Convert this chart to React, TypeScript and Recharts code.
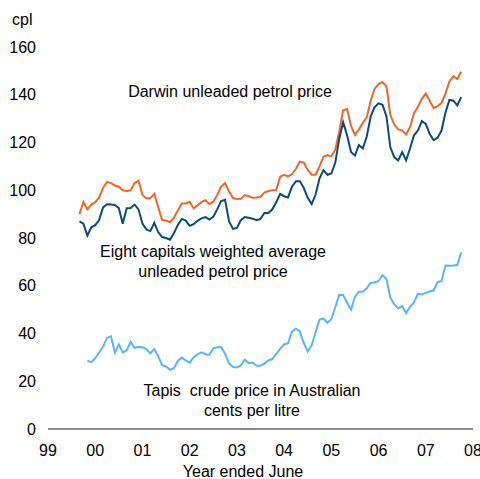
import React from 'react';
import { LineChart, Line, XAxis, YAxis } from 'recharts';

// months since June 1999
const startMonth = 8;
const yearLabels = ['99', '00', '01', '02', '03', '04', '05', '06', '07', '08'];
const yTicks = [0, 20, 40, 60, 80, 100, 120, 140, 160];

const darwin = [
  90, 95, 92, 94, 95, 97, 101, 103.5, 103, 102, 101.5, 100, 99.7, 100, 103, 104,
  98, 96.6, 96.6, 98.5, 93, 87.5, 87.3, 86.6, 88.5, 91.5, 94.5, 94.5, 95.2, 92.4,
  93.6, 95, 95.8, 94.2, 95.2, 98, 101.5, 103, 99.5, 96.8, 96.3, 96.4, 98, 97.5,
  96.9, 97, 97.2, 99, 99.7, 100, 100.1, 105.7, 106.5, 105.8, 106.8, 109, 112,
  111.6, 108.5, 106.5, 106.5, 110, 114, 114.7, 114.2, 117, 124.5, 133.5, 134, 127,
  123.2, 125.5, 128.2, 130.5, 137.5, 142.5, 144.5, 145.3, 143.5, 131.5, 127.5,
  125.5, 125.1, 123.3, 126.5, 132.2, 135, 138.3, 140.5, 137.5, 134.4, 135.2,
  136.6, 140.5, 145.5, 147.8, 146.6, 149.6,
];

const eightCapitals = [
  87, 86, 81, 84.5, 85.4, 87.5, 92.8, 94.1, 94, 93.8, 92.5, 86, 92.5, 92.6, 94, 92,
  86, 83.6, 82.9, 86.3, 82.5, 80.4, 80, 79.3, 82, 85.5, 88, 87.3, 85.1, 85.8, 87.2,
  88.2, 88.8, 87.7, 88.9, 92, 95.5, 96, 87, 83.8, 84.2, 87.5, 88.8, 88.5, 88.1,
  87.5, 88, 90.5, 90.5, 92, 95, 98.5, 97.5, 97, 101.5, 103.8, 103.8, 101, 96.8,
  94.2, 98.2, 105, 108.4, 106.5, 107, 111.5, 121.5, 128.5, 123, 116, 114.5, 119,
  117.5, 122.5, 130.9, 134.8, 136.4, 135.8, 131, 118, 113.8, 112.5, 116, 112.5,
  117.5, 123, 125, 129, 127.8, 123.5, 121, 122, 125, 132.5, 137.8, 137.5, 135.5, 139,
];

const tapis = [
  null, null, 28.6, 28, 29.6, 32, 34.5, 38.2, 38.8, 32, 35.5, 32, 33, 36.5, 34,
  34.3, 34.2, 33.5, 31.7, 33.5, 30.5, 26.7, 26.2, 24.8, 25.5, 28.5, 29.9, 28.7,
  27.8, 30, 31.3, 32.1, 31.3, 31, 33.8, 34.2, 34.3, 31.5, 27.5, 26, 25.8, 26.6, 29,
  27.6, 27.8, 26.5, 26.5, 27.4, 28.7, 29.3, 31.5, 33.5, 35.4, 35.9, 40.8, 42, 41,
  36, 32.5, 35, 40.5, 45.8, 46.3, 44.5, 46, 51, 56.2, 56, 53, 50, 55.3, 57.5, 57.5,
  58.9, 61.3, 61.4, 62, 64.5, 62.8, 55, 52.2, 50.5, 51.5, 48.5, 51.2, 53, 56.6,
  56.3, 57, 57.6, 58, 61.5, 62, 68.5, 68.4, 68.5, 68.7, 74,
];

const data = darwin.map((d, i) => ({
  m: startMonth + i,
  darwin: d,
  eight: eightCapitals[i],
  tapis: tapis[i],
}));

const font = "'Liberation Sans', Arial, sans-serif";

const note: React.CSSProperties = {
  position: 'absolute',
  fontFamily: font,
  fontSize: 16,
  color: '#000',
  textAlign: 'center',
  whiteSpace: 'pre',
  lineHeight: '20px',
  transform: 'translateX(-50%)',
};

export default function App() {
  return (
    <div style={{ position: 'absolute', left: 0, top: 0, width: 480, height: 479, background: '#fff' }}>
      <LineChart width={480} height={479} data={data} margin={{ top: 47, right: 7, bottom: 20, left: 0 }}>
        <XAxis
          dataKey="m"
          type="number"
          domain={[0, 108]}
          ticks={yearLabels.map((_, i) => i * 12)}
          tickFormatter={(v: number) => yearLabels[v / 12]}
          tickLine={false}
          axisLine={{ stroke: '#666', strokeWidth: 1.5 }}
          tick={{ fill: '#000', fontSize: 16, fontFamily: font }}
          tickMargin={10}
          height={30}
          interval={0}
        />
        <YAxis
          domain={[0, 160]}
          ticks={yTicks}
          width={48}
          axisLine={false}
          tickLine={false}
          tickMargin={6}
          tick={{ fill: '#000', fontSize: 16, fontFamily: font }}
          interval={0}
        />
        <Line dataKey="darwin" stroke="#E8692D" strokeWidth={2} dot={false} isAnimationActive={false} />
        <Line dataKey="eight" stroke="#0D4A78" strokeWidth={2} dot={false} isAnimationActive={false} />
        <Line dataKey="tapis" stroke="#5DB4F5" strokeWidth={2} dot={false} isAnimationActive={false} connectNulls={false} />
      </LineChart>
      <div style={{ ...note, left: 12, top: 10, transform: 'none' }}>cpl</div>
      <div style={{ ...note, left: 230, top: 82 }}>Darwin unleaded petrol price</div>
      <div style={{ ...note, left: 213, top: 242, textAlign: 'center' }}>{'Eight capitals weighted average\nunleaded petrol price'}</div>
      <div style={{ ...note, left: 252, top: 381 }}>{'Tapis  crude price in Australian\ncents per litre'}</div>
      <div style={{ ...note, left: 243, top: 462 }}>Year ended June</div>
    </div>
  );
}
